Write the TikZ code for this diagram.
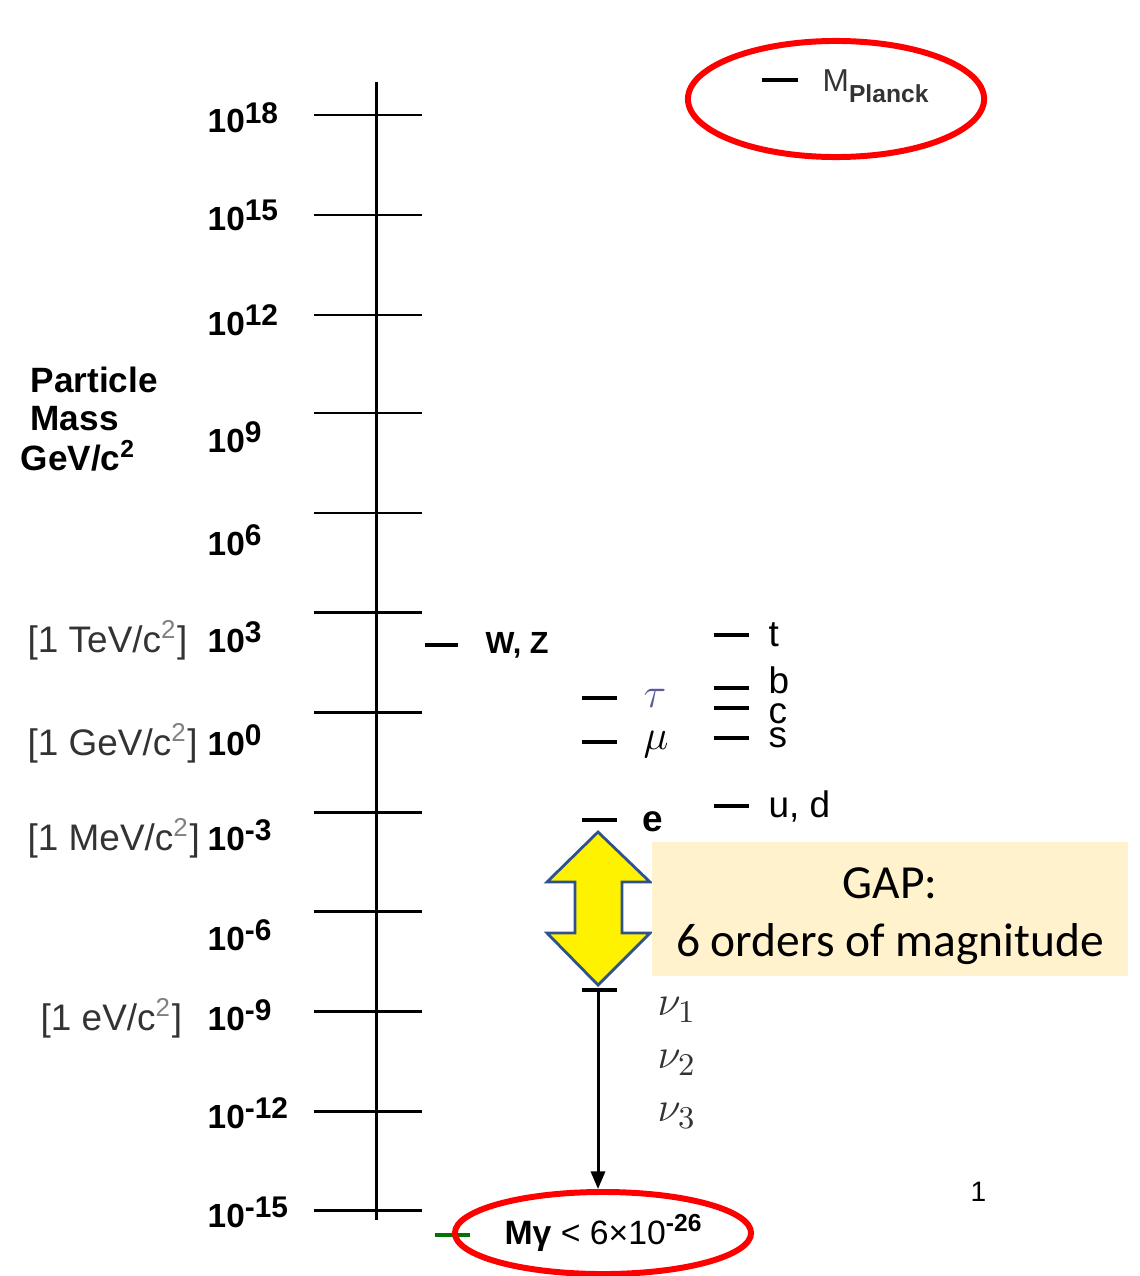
\documentclass[tikz,border=0pt]{standalone}
\usepackage{fontspec}
\setmainfont{Liberation Sans}
\newfontfamily\gapfont{Carlito}
\usetikzlibrary{arrows.meta,shapes.geometric}
\definecolor{gapfill}{HTML}{FFF2CC}
\definecolor{arrowblue}{HTML}{2F528F}
\definecolor{taublue}{HTML}{5A5A9E}
\definecolor{labgray}{HTML}{333333}
\newcommand\pw[1]{10\raisebox{2.8pt}{\fontsize{8.5}{9}\selectfont#1}}
\newcommand\csq{c\textcolor{gray}{\textsuperscript{2}}}

\begin{document}
\begin{tikzpicture}[x=0.01cm,y=-0.01cm,
  tick/.style={line width=.85pt},
  level/.style={line width=1.2pt},
  axnum/.style={anchor=base west,inner sep=0,font=\fontsize{9.5}{10}\selectfont\bfseries},
  unitlab/.style={anchor=base west,inner sep=0,text=labgray,font=\fontsize{10.5}{12}\selectfont},
  title/.style={anchor=base west,inner sep=0,font=\fontsize{10}{12}\selectfont\bfseries},
  lab/.style={anchor=west,inner sep=0,font=\fontsize{10.5}{12}\selectfont},
  ring/.style={ellipse,draw=red,line width=1.7pt,inner sep=0}]
  \useasboundingbox (0,0) rectangle (1140,1276);

  % mass axis with decades
  \coordinate (axtop) at (376,82);
  \coordinate (axbot) at (376,1220);
  \draw[tick] (axtop) -- (axbot);
  \foreach \e/\y/\b [count=\i] in {18/115/133,15/215/230,12/315/335,9/413/452,6/513/555,
    3/612/652,0/712/755,-3/812/850,-6/911/950,-9/1011/1030,-12/1111/1128,-15/1210/1227} {
    \draw[tick] (314,\y) -- (422,\y);
    \node[axnum] (n\i) at (207,\b) {\pw{\e}};
  }
  \foreach \name/\y/\u in {tev/652/TeV,gev/755/GeV,mev/850/MeV}
    \node[unitlab] (\name) at (27,\y) {[1 \u/\csq]};
  \node[unitlab] (ev) at (40,1030) {[1 eV/\csq]};

  \node[title] (pm1) at (30,392) {Particle};
  \node[title] (pm2) at (30,430) {Mass};
  \node[title] (pm3) at (20,470) {GeV/c\textsuperscript{2}};

  % bosons, leptons, quarks
  \draw[level] (425,645) -- (458,645);
  \node[lab,font=\fontsize{8.7}{10}\selectfont\bfseries] (wz) at (485,645) {W, Z};
  \foreach \y in {698,742,820} \draw[level] (582,\y) -- (617,\y);
  \node[lab,text=taublue,font=\fontsize{12}{14}\selectfont] (tau) at (643,698) {$\tau$};
  \node[lab,font=\fontsize{12}{14}\selectfont] (mu) at (643,745) {$\mu$};
  \node[lab,font=\fontsize{10.5}{12}\selectfont\bfseries] (el) at (642,822) {e};
  \foreach \y in {635,688,708,738,806} \draw[level] (714,\y) -- (749,\y);
  \foreach \name/\y/\txt in {t/635/t,b/680/b,c/714/c,s/738/s,ud/806/{u, d}}
    \node[lab] (\name) at (768,\y) {\txt};

  % the gap
  \draw[arrowblue,fill=yellow,line width=.8pt] (598,832) -- (650,882) -- (622,882) -- (622,933)
    -- (650,933) -- (598,985) -- (547,933) -- (575,933) -- (575,882) -- (547,882) -- cycle;
  \node[fill=gapfill,minimum width=4.76cm,minimum height=1.34cm] (gap) at (890,909) {};
  \node[align=center,font=\gapfont\fontsize{13.5}{16.5}\selectfont] (gaptext) at (890,916)
    {GAP:\\6 orders of magnitude};

  % neutrinos
  \coordinate (nubar) at (598,990);
  \draw[level] (582,990) -- (617,990);
  \foreach \k/\y in {1/1010,2/1063,3/1116}
    \node[lab,text=labgray,font=\fontsize{13}{15}\selectfont] (nu\k) at (657,\y) {$\nu_\k$};

  % photon and Planck mass
  \draw[level,green!45!black] (435,1235) -- (470,1235);
  \node[ring,minimum width=2.96cm,minimum height=.82cm,font=\fontsize{9.6}{11}\selectfont] (photon) at (603,1233)
    {\textbf{Mγ} < 6×10\raisebox{3.5pt}{\fontsize{7}{8}\selectfont\bfseries -26}};
  \draw[tick,-{Triangle[length=5pt,width=4pt]}] (nubar) -- (nubar |- photon.north);
  \node[ring,minimum width=2.96cm,minimum height=1.16cm] (planckring) at (836,99) {};
  \draw[level] (762,80) -- (798,80);
  \node[lab,text=labgray,font=\fontsize{9}{10}\selectfont] (planck) at (822,86)
    {M\raisebox{-3pt}{\fontsize{7}{8}\selectfont\bfseries Planck}};
  \node[lab,font=\fontsize{8}{9}\selectfont] (slide) at (970,1192) {1};
\end{tikzpicture}
\end{document}
